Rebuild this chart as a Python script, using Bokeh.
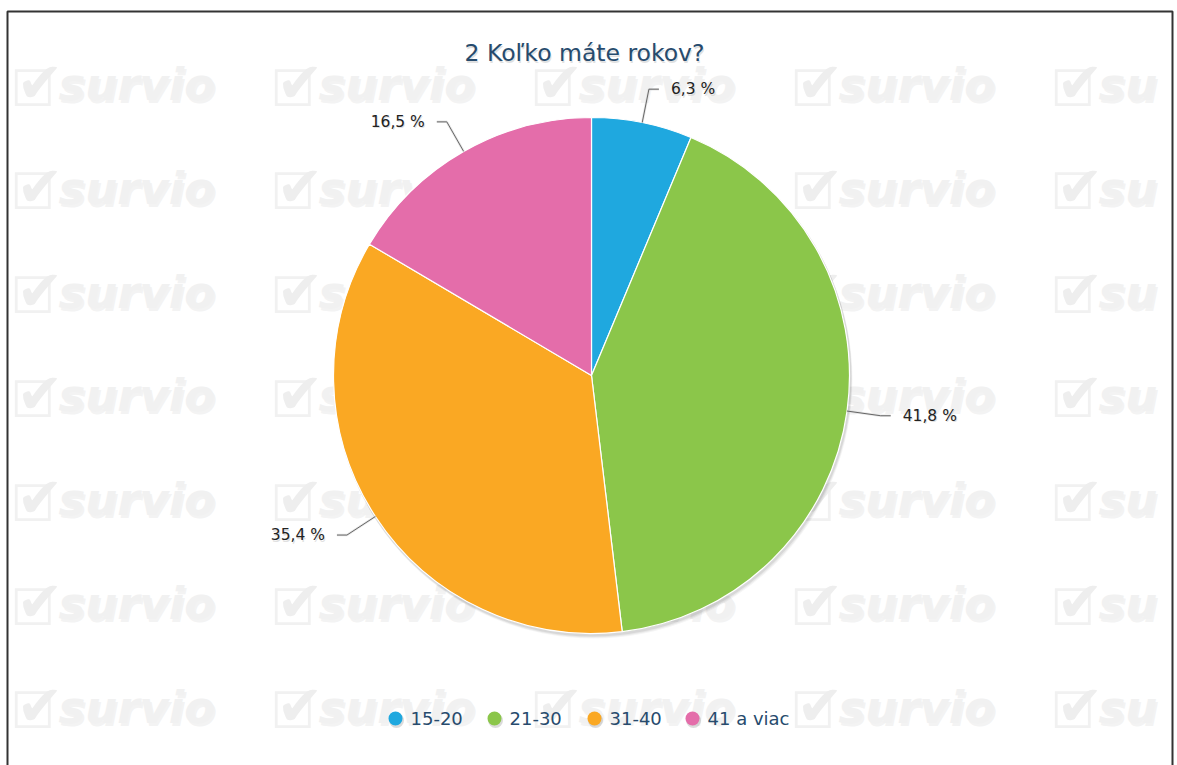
import math
from bokeh.plotting import figure
from bokeh.models import Range1d, ColumnDataSource
from bokeh.core.properties import value
from bokeh.embed import file_html
from bokeh.resources import INLINE

# ---- data ----
categories = ["15-20", "21-30", "31-40", "41 a viac"]
shares = [6.3, 41.8, 35.4, 16.5]
labels = ["6,3 %", "41,8 %", "35,4 %", "16,5 %"]
colors = ["#1fa8df", "#8bc64a", "#faa823", "#e46daa"]
title_text = "2 Koľko máte rokov?"

W, H = 1177, 765
FONT = "DejaVu Sans"

p = figure(width=W, height=H, output_backend="svg", toolbar_location=None,
           x_range=Range1d(0, W), y_range=Range1d(0, H), min_border=0,
           outline_line_color=None, background_fill_color="white",
           border_fill_color="white")
p.axis.visible = False
p.grid.visible = False

def Y(y):
    return H - y

# ---- watermark grid ----
wx, wy, wt, ix, iy = [], [], [], [], []
for r in range(7):
    for c in range(5):
        base = 84 + 103.8 * r
        wx.append(58 + 260 * c); wy.append(Y(base))
        wt.append("survio" if c < 4 else "su")
        ix.append(10 + 260 * c); iy.append(Y(base))
p.text(x=[v + 2 for v in wx], y=[v - 3 for v in wy], text=wt,
       text_font=value(FONT), text_font_style="bold italic", text_font_size="45px",
       text_color="#e4e4e4", text_alpha=0.45, text_baseline="middle")
p.text(x=wx, y=wy, text=wt,
       text_font=value(FONT), text_font_style="bold italic", text_font_size="45px",
       text_color="#f1f1f1", text_baseline="middle")
p.text(x=ix, y=[v - 4 for v in iy], text=["☐"] * len(ix),
       text_font=value(FONT), text_font_size="50px",
       text_color="#f1f1f1", text_baseline="middle")
p.text(x=[v + 6 for v in ix], y=[v + 2 for v in iy], text=["✔"] * len(ix),
       text_font=value(FONT), text_font_size="56px",
       text_color="#eeeeee", text_baseline="middle")

# white masks outside the box
p.quad(left=[0, 1173], right=[7, W], bottom=[0, 0], top=[H, H],
       fill_color="white", line_color=None)
p.quad(left=[0], right=[W], bottom=[Y(11)], top=[H], fill_color="white", line_color=None)

# box border
p.line(x=[7, 7, 1172, 1172], y=[-5, Y(11), Y(11), -5], line_color="#333333", line_width=2)

# ---- pie ----
cx, cy, R = 591, Y(375), 258
total = sum(shares)
starts, ends, mids = [], [], []
acc = 0.0
for s in shares:
    a0 = acc / total * 360
    acc += s
    a1 = acc / total * 360
    starts.append(math.radians(90 - a1))
    ends.append(math.radians(90 - a0))
    mids.append((a0 + a1) / 2)

# shadow
for off, al in [(4, 0.04), (3, 0.05), (2, 0.07)]:
    p.circle(x=[cx + off * 0.5], y=[cy - off], radius=R + 1, fill_color="black",
             fill_alpha=al, line_color=None)

src = ColumnDataSource(dict(start=starts, end=ends, color=colors))
p.wedge(x=cx, y=cy, radius=R, start_angle="start", end_angle="end",
        fill_color="color", line_color="white", line_width=1.2, source=src)

# ---- data labels & connectors ----
for lab, m in zip(labels, mids):
    t = math.radians(m)
    ex, ey = cx + R * math.sin(t), cy + R * math.cos(t)
    rx, ry = cx + (R + 34) * math.sin(t), cy + (R + 34) * math.cos(t)
    right = math.sin(t) >= 0
    sgn = 1 if right else -1
    p.line(x=[ex, rx, rx + sgn * 10], y=[ey, ry, ry], line_color="#cfcfcf",
           line_width=2.5, line_alpha=0.5)
    p.line(x=[ex, rx, rx + sgn * 10], y=[ey, ry, ry], line_color="#666666", line_width=1)
    p.text(x=[rx + sgn * 22 + 1], y=[ry - 1.5], text=[lab], text_font=value(FONT),
           text_font_size="15.5px", text_color="#cccccc",
           text_align="left" if right else "right", text_baseline="middle", text_alpha=0.6)
    p.text(x=[rx + sgn * 22], y=[ry], text=[lab], text_font=value(FONT),
           text_font_size="15.5px", text_color="#222222",
           text_align="left" if right else "right", text_baseline="middle")

# ---- title ----
p.text(x=[585], y=[Y(54)], text=[title_text], text_font=value(FONT), text_font_size="23.5px",
       text_color="#cccccc", text_alpha=0.6, text_align="center", text_baseline="middle")
p.text(x=[584], y=[Y(52)], text=[title_text], text_font=value(FONT), text_font_size="23.5px",
       text_color="#274b6d", text_align="center", text_baseline="middle")

# ---- legend ----
leg_x = [395, 494, 594, 692]
ly = Y(718)
p.circle(x=[v + 1 for v in leg_x], y=[ly - 2] * 4, radius=7.5, fill_color="#999999",
         fill_alpha=0.35, line_color=None)
p.circle(x=leg_x, y=[ly] * 4, radius=7, fill_color=colors, line_color=None)
p.text(x=[v + 15 for v in leg_x], y=[ly] * 4, text=categories, text_font=value(FONT),
       text_font_size="18px", text_color="#274b6d", text_baseline="middle")

open("out.html", "w").write(file_html(p, INLINE))
